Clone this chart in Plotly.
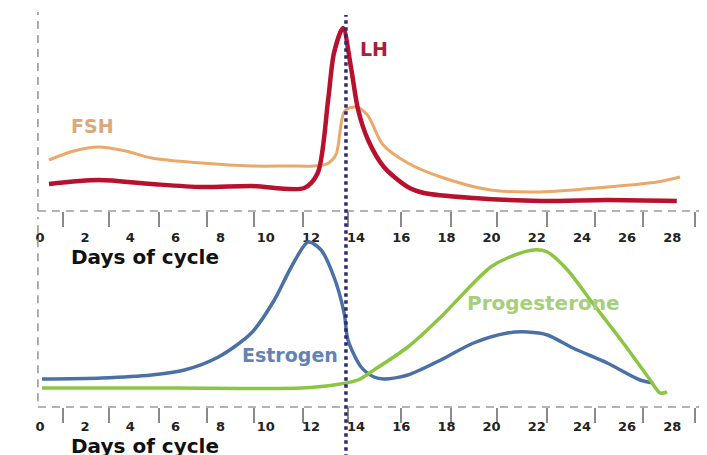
import plotly.graph_objects as go

# ---- data ----
days_labels = [0, 2, 4, 6, 8, 10, 12, 14, 16, 18, 20, 22, 24, 26, 28]
tick_marks = [1.0, 3.05, 5.25, 7.4, 9.5, 11.65, 13.65, 16.0, 18.2, 20.25, 22.45, 24.6, 26.7, 29.0]
ovulation_day = 13.55

fsh_day = [0.4, 1.5, 2.6, 3.8, 4.94, 7.15, 9.36, 11.0, 12.14, 12.7, 13.1, 13.5, 14.0, 14.5, 15.2, 16.29, 17.75, 19.96, 22.16, 25.12, 27.33, 28.34]
fsh_val = [25.5, 30, 32, 30, 26.5, 24, 22.5, 22.5, 22.5, 23.5, 28, 50, 52, 48, 33, 24, 17, 10.5, 9.5, 12, 14.5, 17]

lh_day = [0.4, 2.6, 4.94, 7.15, 9.36, 11.7, 12.3, 12.76, 13.02, 13.42, 13.77, 14.09, 14.53, 15.23, 16.29, 17.0, 19.2, 22.16, 25.12, 28.2]
lh_val = [13.5, 15.5, 13.5, 12, 12.5, 11.5, 19, 55.5, 79, 91.5, 72, 50.5, 35.5, 22, 12, 9, 6.5, 5, 5.5, 5]

est_day = [0.09, 2.74, 4.94, 6.4, 7.9, 9.36, 10.38, 11.13, 11.88, 12.45, 13.02, 13.47, 13.64, 14.22, 14.79, 15.23, 16.29, 17.75, 19.2, 20.7, 21.6, 22.47, 23.6, 25.12, 26.58, 27.15]
est_val = [14, 14.5, 16, 18.5, 25, 37, 53.5, 70, 82.5, 78.5, 65, 47, 33.5, 20, 15, 14, 16, 23.5, 32, 37, 37.5, 36, 29.5, 22, 13.5, 12]

prog_day = [0.09, 6.0, 11.57, 13.02, 14.08, 14.79, 16.29, 17.75, 19.2, 19.96, 20.7, 21.85, 22.47, 23.36, 24.37, 25.83, 27.02, 27.46, 27.77]
prog_val = [9.5, 9.5, 9.5, 11, 13.5, 18.5, 30, 45, 62, 70, 74.5, 78.5, 77.5, 68.5, 53.5, 32, 13.5, 7, 7.5]

W, H = 707, 455
OFF = 8  # page body margin offset
X_RANGE = [-0.09, 29.23]


def px_x(p):
    return (p - OFF) / W


def px_y(p):
    return 1 - (p - OFF) / H


fig = go.Figure()
fig.add_trace(go.Scatter(x=fsh_day, y=fsh_val, mode="lines", line=dict(color="#eba868", width=3, shape="spline", smoothing=0.9), xaxis="x", yaxis="y"))
fig.add_trace(go.Scatter(x=lh_day, y=lh_val, mode="lines", line=dict(color="#b7112d", width=4.5, shape="spline", smoothing=0.8), xaxis="x", yaxis="y"))
fig.add_trace(go.Scatter(x=est_day, y=est_val, mode="lines", line=dict(color="#4a70a6", width=3.5, shape="spline", smoothing=0.8), xaxis="x2", yaxis="y2"))
fig.add_trace(go.Scatter(x=prog_day, y=prog_val, mode="lines", line=dict(color="#8cc543", width=3.5, shape="spline", smoothing=0.8), xaxis="x2", yaxis="y2"))

xdom = [px_x(36), px_x(700)]
top_dom = [px_y(211), px_y(12)]
bot_dom = [px_y(407), px_y(215)]


def xaxis_cfg(anchor, tlen):
    return dict(
        domain=xdom, range=X_RANGE, anchor=anchor,
        showgrid=False, zeroline=False, showline=False,
        tickmode="array", tickvals=days_labels, ticktext=[str(d) for d in days_labels],
        ticks="outside", ticklen=tlen, tickcolor="rgba(0,0,0,0)",
        tickfont=dict(family="DejaVu Sans", size=13, color="#222222", weight="bold"),
        minor=dict(tickmode="array", tickvals=tick_marks, ticks="outside", ticklen=15,
                   tickcolor="#8a8a8a", tickwidth=1.6, showgrid=False),
    )


def yaxis_cfg(dom, rng):
    return dict(domain=dom, range=rng, showgrid=False, zeroline=False, showline=False,
                showticklabels=False, ticks="")


fig.update_layout(
    width=W, height=H,
    margin=dict(l=0, r=0, t=0, b=0),
    paper_bgcolor="white", plot_bgcolor="white",
    showlegend=False,
    xaxis=xaxis_cfg("y", 14),
    xaxis2=xaxis_cfg("y2", 7),
    yaxis=yaxis_cfg(top_dom, [0, 99.5]),
    yaxis2=yaxis_cfg(bot_dom, [0, 96]),
)

dash_style = dict(color="#9a9a9a", width=1.6, dash="8px,6px")
shapes = []
for xr, yr in (("x", "y"), ("x2", "y2")):
    shapes.append(dict(type="line", xref=f"{xr} domain", yref=f"{yr} domain", x0=0, x1=1, y0=0, y1=0, line=dash_style))
    shapes.append(dict(type="line", xref=f"{xr} domain", yref=f"{yr} domain", x0=0, x1=0, y0=0.03 if yr == "y2" else 0, y1=1 if yr == "y" else 0.99, line=dash_style))
shapes.append(dict(type="line", xref="x", yref="paper", x0=ovulation_day, x1=ovulation_day, y0=-0.05, y1=px_y(15),
                   line=dict(color="#2f2a70", width=3.5, dash="dot")))
fig.update_layout(shapes=shapes)

lab_font = dict(family="DejaVu Sans", size=19, weight="bold")
fig.add_annotation(x=1.3, y=42.5, xref="x", yref="y", text="FSH", showarrow=False, xanchor="left",
                   font=dict(lab_font, color="#d9a97c"))
fig.add_annotation(x=14.1, y=81, xref="x", yref="y", text="LH", showarrow=False, xanchor="left",
                   font=dict(lab_font, color="#a8203a"))
fig.add_annotation(x=13.3, y=26, xref="x2", yref="y2", text="Estrogen", showarrow=False, xanchor="right",
                   font=dict(lab_font, color="#6384b2"))
fig.add_annotation(x=18.8, y=52, xref="x2", yref="y2", text="Progesterone", showarrow=False, xanchor="left",
                   font=dict(lab_font, size=20, color="#a6cf7c"))
for yp in (257, 446):
    fig.add_annotation(x=px_x(67), y=px_y(yp), xref="paper", yref="paper", text="Days of cycle", showarrow=False,
                       xanchor="left", yanchor="middle",
                       font=dict(family="DejaVu Sans", size=20, color="#111111", weight="bold"))

fig.write_html("out.html")
